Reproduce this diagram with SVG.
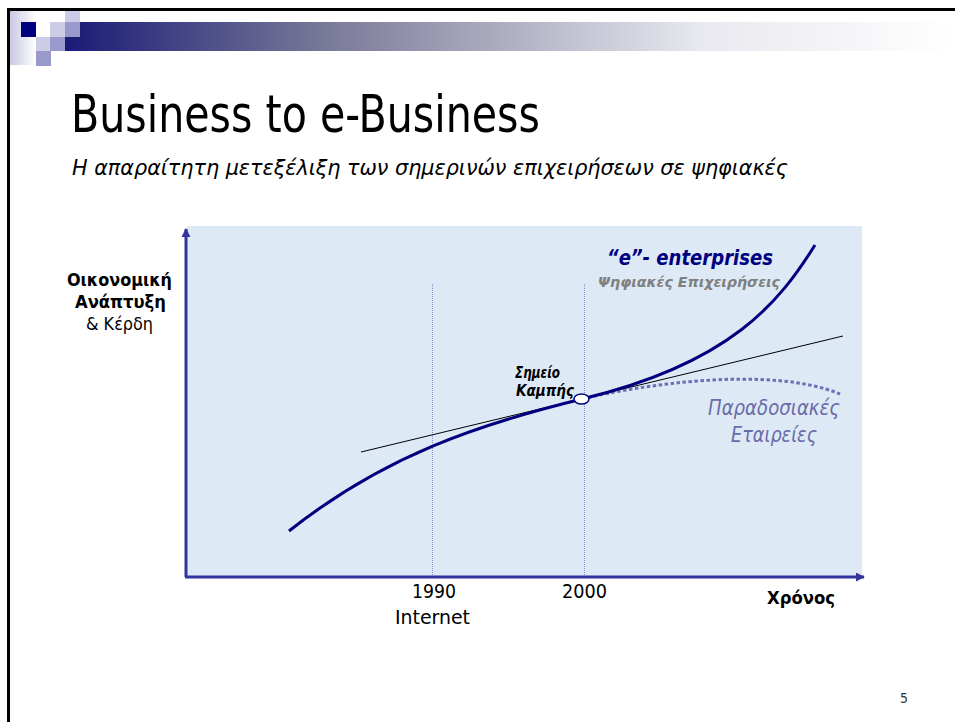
<svg xmlns="http://www.w3.org/2000/svg" width="955" height="722" viewBox="0 0 955 722">
<defs>
<style>
text{font-family:"DejaVu Sans","Liberation Sans",sans-serif;font-stretch:condensed}
.b{font-weight:bold}
.i{font-style:italic}
.lab{font-size:18px;fill:#000}
.tick{font-size:19px;fill:#000}
.axis{stroke:#3333a0;stroke-width:3;fill:none}
.vline{stroke:#8c8cd0;stroke-width:1;stroke-dasharray:1 1;fill:none}
.light{fill:#ccccE6}
.mid{fill:#9999cc}
</style>
<linearGradient id="bar" gradientUnits="userSpaceOnUse" x1="65" y1="0" x2="953" y2="0">
<stop offset="0" stop-color="#1a1a78"/>
<stop offset="0.29" stop-color="#787898"/>
<stop offset="0.715" stop-color="#e8e8ef"/>
<stop offset="1" stop-color="#ffffff"/>
</linearGradient>
<linearGradient id="pale" x1="0" y1="0" x2="1" y2="0">
<stop offset="0" stop-color="#c8c8e2"/>
<stop offset="1" stop-color="#ffffff"/>
</linearGradient>
<marker id="arr" viewBox="0 0 10 10" refX="9" refY="5" markerWidth="3" markerHeight="3" orient="auto" markerUnits="strokeWidth">
<path d="M0,0 L10,5 L0,10 z" fill="#3333a0"/>
</marker>
</defs>
<rect width="955" height="722" fill="#ffffff"/>
<g id="frame">
<path d="M8.5,722 L8.5,9.5 L955,9.5" fill="none" stroke="#000" stroke-width="3"/>
</g>
<g id="header">
<rect x="10" y="11" width="26" height="54" fill="url(#pale)"/>
<rect x="65" y="22" width="888" height="29" fill="url(#bar)"/>
<rect x="21" y="22" width="15" height="15" fill="#000080"/>
<rect class="light" x="65" y="11" width="15" height="11"/>
<rect class="light" x="50" y="22" width="15" height="15"/>
<rect class="mid" x="65" y="22" width="15" height="15"/>
<rect class="light" x="36" y="37" width="14" height="14"/>
<rect class="mid" x="50" y="37" width="15" height="14"/>
<rect class="mid" x="36" y="51" width="15" height="15"/>
</g>
<g id="title">
<text x="71" y="132" font-size="51" textLength="469" lengthAdjust="spacingAndGlyphs" fill="#000">Business to e-Business</text>
<text class="i" x="72" y="175" font-size="21" textLength="716" lengthAdjust="spacingAndGlyphs" fill="#000">Η απαραίτητη μετεξέλιξη των σημερινών επιχειρήσεων σε ψηφιακές</text>
</g>
<g id="chart-area">
<rect x="187" y="226" width="675" height="351" fill="#ddeaf6"/>
</g>
<g id="connectors">
<line class="vline" x1="432.5" y1="284" x2="432.5" y2="576"/>
<line class="vline" x1="584.5" y1="284" x2="584.5" y2="576"/>
<line class="axis" x1="186" y1="577" x2="186" y2="229" marker-end="url(#arr)"/>
<line class="axis" x1="185" y1="577" x2="864" y2="577" marker-end="url(#arr)"/>
<line x1="361" y1="452" x2="843" y2="336" stroke="#000" stroke-width="1"/>
<path d="M582,399 C640,385 770,365 840,394" fill="none" stroke="#6f6fb5" stroke-width="3" stroke-dasharray="3.5 2.5"/>
<path d="M289,531 C385,455 480,424 582,399 C732,363 780,301 815,245" fill="none" stroke="#00007f" stroke-width="3"/>
</g>
<g id="inflection-point">
<ellipse cx="581.5" cy="399" rx="7.5" ry="5" fill="#ffffff" stroke="#00007f" stroke-width="1.5"/>
<text class="b i" x="515" y="378" font-size="15" textLength="45" lengthAdjust="spacingAndGlyphs" fill="#000">Σημείο</text>
<text class="b i" x="516" y="396" font-size="15" textLength="58" lengthAdjust="spacingAndGlyphs" fill="#000">Καμπής</text>
</g>
<g id="y-label">
<text class="lab b" x="67" y="286" textLength="105" lengthAdjust="spacingAndGlyphs">Οικονομική</text>
<text class="lab b" x="75" y="308" textLength="91" lengthAdjust="spacingAndGlyphs">Ανάπτυξη</text>
<text class="lab" x="86" y="330" textLength="67" lengthAdjust="spacingAndGlyphs">&amp; Κέρδη</text>
</g>
<g id="x-labels">
<text class="tick" x="412" y="598" textLength="44" lengthAdjust="spacingAndGlyphs">1990</text>
<text class="tick" x="395" y="624" textLength="75" lengthAdjust="spacingAndGlyphs">Internet</text>
<text class="tick" x="562" y="598" textLength="45" lengthAdjust="spacingAndGlyphs">2000</text>
<text class="lab b" x="767" y="604" textLength="68" lengthAdjust="spacingAndGlyphs">Χρόνος</text>
</g>
<g id="e-enterprises">
<text class="b i" x="607" y="265" font-size="21" textLength="166" lengthAdjust="spacingAndGlyphs" fill="#000080">“e”- enterprises</text>
<text class="b i" x="598" y="287" font-size="14" textLength="182" lengthAdjust="spacingAndGlyphs" fill="#808080">Ψηφιακές Επιχειρήσεις</text>
</g>
<g id="traditional">
<text class="i" x="708" y="415" font-size="21" textLength="132" lengthAdjust="spacingAndGlyphs" fill="#6b6ba8">Παραδοσιακές</text>
<text class="i" x="731" y="442" font-size="21" textLength="86" lengthAdjust="spacingAndGlyphs" fill="#6b6ba8">Εταιρείες</text>
</g>
<g id="page-number">
<text x="900" y="703" font-size="14" textLength="8" lengthAdjust="spacingAndGlyphs" fill="#333">5</text>
</g>
</svg>
